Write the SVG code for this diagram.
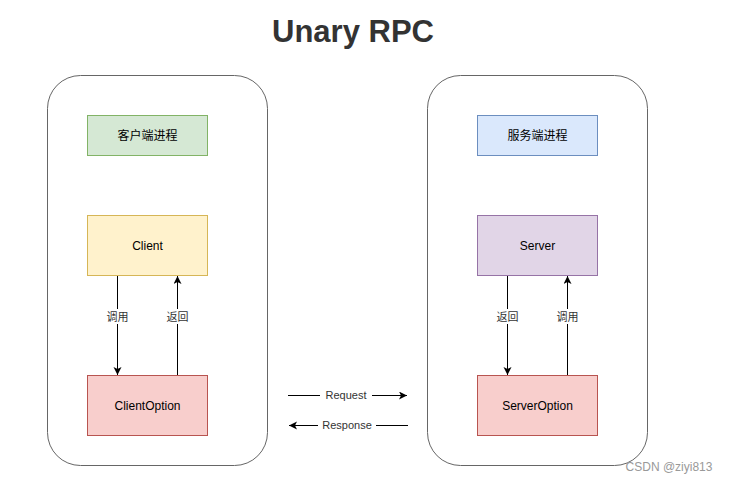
<svg xmlns="http://www.w3.org/2000/svg" width="729" height="484" viewBox="0 0 729 484">
<style>
.cont{fill:#fff;stroke:#666;stroke-width:1}
.t{font-family:"Liberation Sans","Noto Sans CJK SC",sans-serif;font-size:12px;fill:#000;text-anchor:middle}
.lbl{font-family:"Liberation Sans","Noto Sans CJK SC",sans-serif;font-size:11px;fill:#333;text-anchor:middle}
.edge{stroke:#000;stroke-width:1;fill:none}
.bg{fill:#fff}
</style>
<defs>
<marker id="ah" markerWidth="10" markerHeight="10" refX="8" refY="4" orient="auto" markerUnits="userSpaceOnUse">
<path d="M0,0 L8,4 L0,8 L2,4 Z" fill="#000"/>
</marker>
</defs>
<rect width="729" height="484" fill="#fff"/>
<text x="353" y="42" style="font-family:'Liberation Sans',sans-serif;font-size:31px;font-weight:bold;fill:#333" text-anchor="middle">Unary RPC</text>
<g id="client-container"><rect class="cont" x="47.5" y="75.5" width="220" height="390" rx="33" ry="33"/></g>
<g id="server-container"><rect class="cont" x="427.5" y="75.5" width="220" height="390" rx="33" ry="33"/></g>
<g id="client-process"><rect x="87.5" y="115.5" width="120" height="40" fill="#d5e8d4" stroke="#82b366"/><text class="t" x="147.5" y="139.5">客户端进程</text></g>
<g id="client"><rect x="87.5" y="215.5" width="120" height="60" fill="#fff2cc" stroke="#d6b656"/><text class="t" x="147.5" y="249.5">Client</text></g>
<g id="client-option"><rect x="87.5" y="375.5" width="120" height="60" fill="#f8cecc" stroke="#b85450"/><text class="t" x="147.5" y="409.5">ClientOption</text></g>
<g id="server-process"><rect x="477.5" y="115.5" width="120" height="40" fill="#dae8fc" stroke="#6c8ebf"/><text class="t" x="537.5" y="139.5">服务端进程</text></g>
<g id="server"><rect x="477.5" y="215.5" width="120" height="60" fill="#e1d5e7" stroke="#9673a6"/><text class="t" x="537.5" y="249.5">Server</text></g>
<g id="server-option"><rect x="477.5" y="375.5" width="120" height="60" fill="#f8cecc" stroke="#b85450"/><text class="t" x="537.5" y="409.5">ServerOption</text></g>
<g id="connectors">
<line class="edge" x1="117.5" y1="276" x2="117.5" y2="375" marker-end="url(#ah)"/>
<rect class="bg" x="104" y="309" width="27" height="15"/><text class="lbl" x="117.5" y="320.5">调用</text>
<line class="edge" x1="177.5" y1="375" x2="177.5" y2="276" marker-end="url(#ah)"/>
<rect class="bg" x="164" y="309" width="27" height="15"/><text class="lbl" x="177.5" y="320.5">返回</text>
<line class="edge" x1="507.5" y1="276" x2="507.5" y2="375" marker-end="url(#ah)"/>
<rect class="bg" x="494" y="309" width="27" height="15"/><text class="lbl" x="507.5" y="320.5">返回</text>
<line class="edge" x1="567.5" y1="375" x2="567.5" y2="276" marker-end="url(#ah)"/>
<rect class="bg" x="554" y="309" width="27" height="15"/><text class="lbl" x="567.5" y="320.5">调用</text>
<line class="edge" x1="288" y1="395.5" x2="407" y2="395.5" marker-end="url(#ah)"/>
<rect class="bg" x="320" y="388" width="52" height="15"/><text class="lbl" x="346" y="399">Request</text>
<line class="edge" x1="408" y1="425.5" x2="289" y2="425.5" marker-end="url(#ah)"/>
<rect class="bg" x="318" y="418" width="58" height="15"/><text class="lbl" x="347" y="429">Response</text>
</g>
<text x="669" y="471" style="font-family:'Liberation Sans',sans-serif;font-size:12px;fill:#999" text-anchor="middle">CSDN @ziyi813</text>
</svg>
